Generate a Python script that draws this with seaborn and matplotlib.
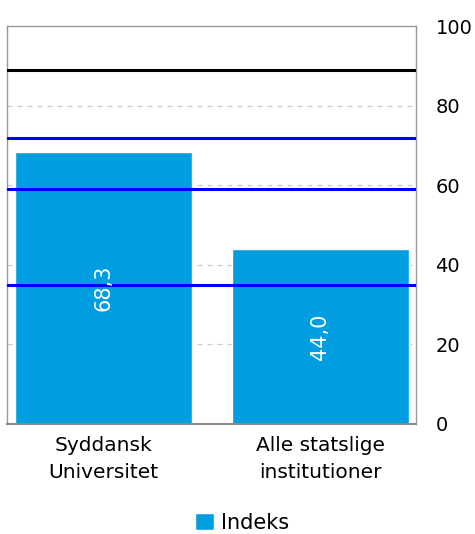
import pandas as pd
import seaborn as sns
import matplotlib.pyplot as plt

categories = ["Syddansk\nUniversitet", "Alle statslige\ninstitutioner"]
values = [68.3, 44.0]
black_line = [89]
blue_lines = [72, 59, 35]
yticks = [0, 20, 40, 60, 80, 100]

df = pd.DataFrame({"kategori": categories, "indeks": values})

sns.set_style("white")
plt.rcParams['font.family'] = ['DejaVu Sans']
plt.rcParams['text.color'] = 'black'
plt.rcParams['xtick.color'] = 'black'
plt.rcParams['ytick.color'] = 'black'

fig = plt.figure(figsize=(4.75, 5.34), dpi=100)
ax = fig.add_axes([0.0137, 0.206, 0.862, 0.745])

sns.barplot(data=df, x="kategori", y="indeks", color="#009ee0", saturation=1,
            width=0.816, label="Indeks", ax=ax, zorder=2)

# gridlines
for t in yticks[1:-1]:
    ax.axhline(t, color="#cccccc", linestyle=(0, (4, 4)), linewidth=0.9, zorder=1)

for y in black_line:
    ax.axhline(y, color="black", linewidth=2.2, zorder=3)
for y in blue_lines:
    ax.axhline(y, color="#0000ff", linewidth=2.2, zorder=3)

for i, v in enumerate(values):
    ax.text(i, v / 2, f"{v:.1f}".replace(".", ","), rotation=90, color="white",
            ha="center", va="center", fontsize=15, zorder=4)

ax.set_ylim(0, 100)
ax.set_xlim(-0.447, 1.44)
ax.set_yticks(yticks)
ax.yaxis.tick_right()
ax.tick_params(axis="y", length=0, labelsize=14, pad=14, labelcolor="black")
ax.tick_params(axis="x", length=0, labelsize=14.5, pad=9, labelcolor="black")
for lbl in ax.get_xticklabels():
    lbl.set_linespacing(1.5)
ax.set_xlabel("")
ax.set_ylabel("")
for s in ax.spines.values():
    s.set_color("#999999")
    s.set_linewidth(1)
ax.spines["bottom"].set_color("#888888")
ax.spines["bottom"].set_linewidth(1.5)

handles, labels = ax.get_legend_handles_labels()
if ax.get_legend() is not None:
    ax.get_legend().remove()
fig.legend(handles[:1], ["Indeks"], loc="center", bbox_to_anchor=(0.51, 0.021),
           frameon=False, fontsize=15, handlelength=0.9, handleheight=0.9,
           handletextpad=0.35)

fig.savefig("out.png", dpi=100)
